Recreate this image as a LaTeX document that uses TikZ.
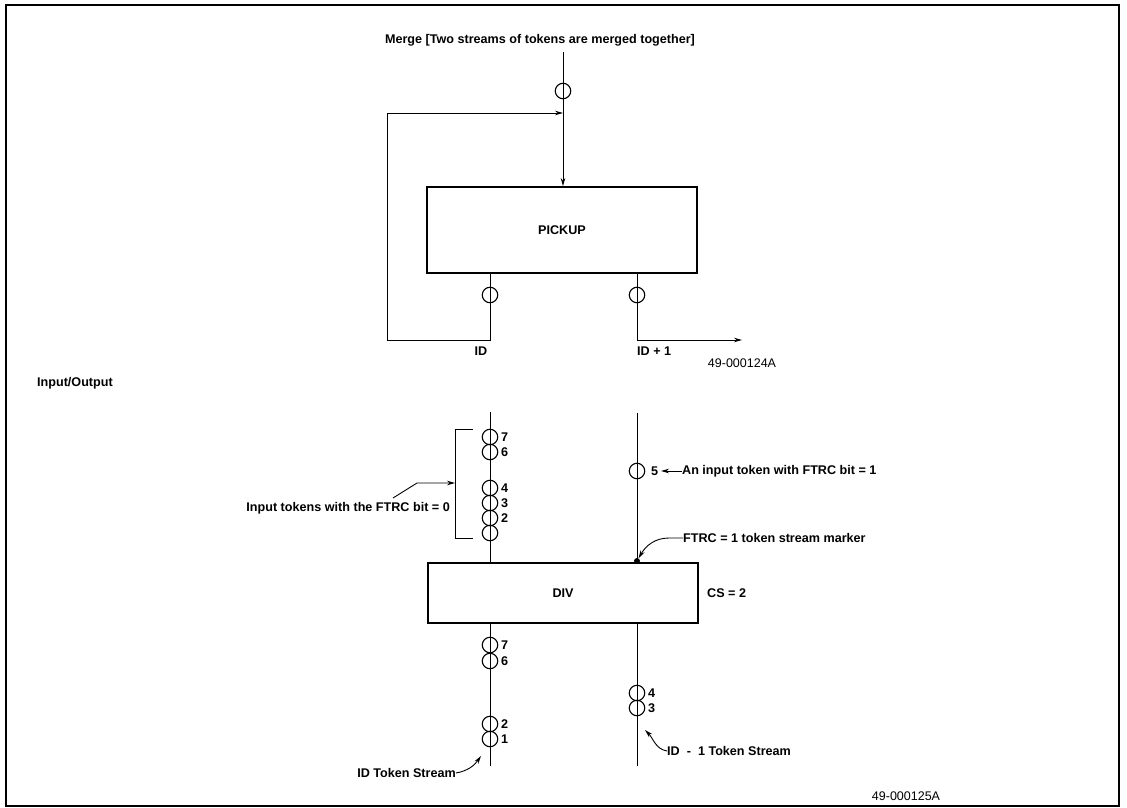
\documentclass[tikz,border=0pt]{standalone}
\usepackage{fontspec}
\setmainfont{Liberation Sans}
\usetikzlibrary{arrows.meta}
\begin{document}
\begin{tikzpicture}[x=1pt,y=-1pt,
  lbl/.style={font=\fontsize{12.6}{14}\selectfont\bfseries, inner sep=0pt},
  code/.style={font=\fontsize{12.5}{14}\selectfont, inner sep=0pt},
  tok/.style={draw, circle, minimum size=15.5pt, inner sep=0pt, line width=1.1pt},
  box/.style={draw, line width=1.8pt, inner sep=0pt, font=\fontsize{12.6}{14}\selectfont\bfseries},
  wire/.style={line width=0.9pt},
  arr/.style={-{Stealth[length=8pt,width=4.5pt]}},
  dot/.style={circle, fill, inner sep=0pt, minimum size=6pt},
]
\useasboundingbox (0,0) rectangle (1127,808);
\draw[line width=1.8pt] (6,5) rectangle (1119,806);

% ---------- Merge ----------
\node[lbl] (title) at (540,40) {Merge [Two streams of tokens are merged together]};
\node[box, minimum width=270pt, minimum height=86pt] (pickup) at (562,230) {PICKUP};
\coordinate (intop) at (563,52);
\coordinate (merge) at (563,113);
\coordinate (loopT) at (387,113);
\coordinate (loopL) at (387,340);
\coordinate (idend) at (490,340);
\coordinate (id1end) at (637,340);
\coordinate (out) at (742,340);
\draw[wire, arr] (intop) -- (intop |- pickup.north);
\draw[wire, arr] (pickup.south -| idend) -- (idend) -- (loopL) -- (loopT) -- (merge);
\draw[wire, arr] (pickup.south -| id1end) -- (id1end) -- (out);
\node[tok] (t0) at (563,91) {};
\node[tok] (t1) at (490,295) {};
\node[tok] (t2) at (637,295) {};
\node[lbl] (lid) at (481,351) {ID};
\node[lbl, anchor=west] (lid1) at (637,351) {ID + 1};
\node[code] (fig1) at (742,363) {49-000124A};

% ---------- Input/Output ----------
\node[lbl, anchor=west] (io) at (37,383) {Input/Output};
\node[box, minimum width=270pt, minimum height=60pt] (div) at (563,593) {DIV};
\node[lbl, anchor=west] (cs) at (707,593) {CS = 2};

\coordinate (ltop) at (490,412);
\coordinate (rtop) at (637,413);
\coordinate (lbot) at (490,766);
\coordinate (rbot) at (637,766);
\draw[wire] (ltop) -- (ltop |- div.north);
\draw[wire] (rtop) -- (rtop |- div.north);
\draw[wire] (lbot |- div.south) -- (lbot);
\draw[wire] (rbot |- div.south) -- (rbot);

% input tokens, left stream
\foreach \y/\n [count=\i] in {437/7, 452/6, 488/4, 503/3, 518/2} {
  \node[tok] (in\i) at (490,\y) {};
  \node[lbl, anchor=west] (inl\i) at (501,\y) {\n};
}
\node[tok] (in6) at (490,533) {};

% bracket
\coordinate (brT) at (473,429);
\coordinate (brTL) at (455,429);
\coordinate (brBL) at (455,538);
\coordinate (brB) at (473,538);
\coordinate (brM) at (455,483);
\coordinate (brK) at (417,483);
\coordinate (brS) at (393,498);
\draw[wire] (brT) -- (brTL) -- (brBL) -- (brB);
\draw[wire, arr] (brS) -- (brK) -- (brM);
\node[lbl, anchor=east] (inlab) at (450,508) {Input tokens with the FTRC bit = 0};

% right input token
\node[tok] (r5) at (637,471) {};
\node[lbl, anchor=west] (r5l) at (651,471) {5};
\node[lbl, anchor=west] (r5t) at (682,471) {An input token with FTRC bit = 1};
\coordinate (r5a) at (661,471);
\draw[wire, arr] (r5t.west) -- (r5a);

% marker
\node[dot] (mark) at (637,561) {};
\node[lbl, anchor=west] (ftrc) at (683,538) {FTRC = 1 token stream marker};
\coordinate (fk) at (669,538);
\draw[wire, arr] (ftrc.west) -- (fk) to[out=180, in=60] (mark);

% output tokens
\foreach \y/\n [count=\i] in {645/7, 661/6, 724/2, 739/1} {
  \node[tok] (o\i) at (490,\y) {};
  \node[lbl, anchor=west] (ol\i) at (501,\y) {\n};
}
\foreach \y/\n [count=\i] in {693/4, 708/3} {
  \node[tok] (p\i) at (637,\y) {};
  \node[lbl, anchor=west] (pl\i) at (648,\y) {\n};
}

\node[lbl, anchor=east] (idts) at (456,773) {ID Token Stream};
\coordinate (idtsa) at (481,756);
\draw[wire, arr] (idts.east) to[out=10, in=235] (idtsa);

\node[lbl, anchor=west] (id1ts) at (667,751) {ID\ \ -\ \ 1 Token Stream};
\coordinate (id1tsa) at (645,730);
\draw[wire, arr] (id1ts.west) to[out=170, in=-45] (id1tsa);

\node[code] (fig2) at (906,796) {49-000125A};
\end{tikzpicture}
\end{document}
